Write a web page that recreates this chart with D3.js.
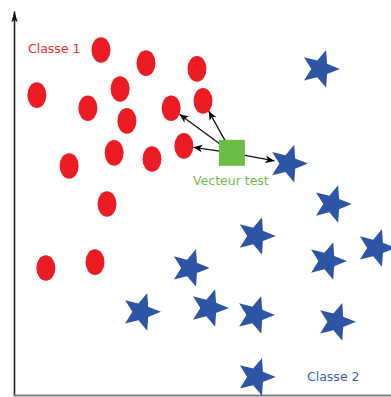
<!DOCTYPE html>
<html>
<head>
<meta charset="utf-8">
<script src="https://cdn.jsdelivr.net/npm/d3@7"></script>
<style>
  html, body { margin: 0; padding: 0; background: #fff; }
  svg { display: block; }
  text { font-family: "Comic Sans MS", "DejaVu Sans", sans-serif; }
</style>
</head>
<body>
<svg id="chart" width="391" height="397"></svg>
<script>
// ---- Data (arbitrary feature units, 0..10) ----
const classe1X = [2.32, 3.52, 4.88, 0.61, 2.83, 1.97, 4.19, 5.04, 3.01, 2.67, 3.68, 4.53, 1.47, 2.48, 0.85, 2.16];
const classe1Y = [8.96, 8.62, 8.47, 7.79, 7.95, 7.45, 7.45, 7.64, 7.12, 6.29, 6.13, 6.47, 5.95, 4.96, 3.30, 3.45];
const classe2X = [8.16, 7.31, 8.48, 6.45, 8.35, 9.65, 4.69, 3.39, 5.20, 6.43, 8.59, 6.45];
const classe2Y = [8.47, 6.01, 4.96, 4.13, 3.48, 3.82, 3.30, 2.16, 2.26, 2.08, 1.90, 0.47];
const testX = [5.81];
const testY = [6.29];
// nearest neighbours linked to the test vector: [class, index]
const neighbourClass = ["c1", "c1", "c1", "c2"];
const neighbourIndex = [7, 6, 11, 1];
const labels = ["Classe 1", "Vecteur test", "Classe 2"];

// ---- Setup ----
const svg = d3.select("#chart");
const x = d3.scaleLinear().domain([0, 10]).range([14, 389]);
const y = d3.scaleLinear().domain([0, 10]).range([395, 10]);

const RED = "#ed1c24", BLUE = "#2e55a5", GREEN = "#6cbd45";
const rx = 9.5, ry = 12.8, starR = 19.8, starInner = 0.44;

const defs = svg.append("defs");
defs.append("marker")
  .attr("id", "arr").attr("viewBox", "-10 -5 12 10")
  .attr("refX", 0).attr("refY", 0)
  .attr("markerWidth", 12).attr("markerHeight", 10)
  .attr("markerUnits", "userSpaceOnUse").attr("orient", "auto")
  .append("path").attr("d", "M0,0L-9,-3.8L-6.5,0L-9,3.8Z").attr("fill", "#000");
defs.append("marker")
  .attr("id", "axarr").attr("viewBox", "-12 -5 13 10")
  .attr("refX", 0).attr("refY", 0)
  .attr("markerWidth", 13).attr("markerHeight", 10)
  .attr("markerUnits", "userSpaceOnUse").attr("orient", "auto")
  .append("path").attr("d", "M0,0L-11,-3.2L-8,0L-11,3.2Z").attr("fill", "#000");

// ---- Axes (no ticks) ----
const yAxis = svg.append("g").attr("transform", `translate(${x(0)},0)`)
  .call(d3.axisLeft(y.copy().range([395, 11])).tickValues([]).tickSizeOuter(0));
yAxis.select(".domain").attr("stroke", "#222").attr("stroke-width", 1.6)
  .attr("marker-end", "url(#axarr)");

const xAxis = svg.append("g").attr("transform", `translate(0,${y(0)})`)
  .call(d3.axisBottom(x.copy().range([13, 400])).tickValues([]).tickSizeOuter(0));
xAxis.select(".domain").attr("stroke", "#7f7f7f").attr("stroke-width", 2.2);

// ---- Arrows from test vector to neighbours ----
const tx = x(testX[0]), ty = y(testY[0]);
const arrows = neighbourClass.map((c, k) => {
  const i = neighbourIndex[k];
  const px = c === "c1" ? x(classe1X[i]) : x(classe2X[i]);
  const py = c === "c1" ? y(classe1Y[i]) : y(classe2Y[i]);
  const dx = px - tx, dy = py - ty, L = Math.hypot(dx, dy);
  const ux = dx / L, uy = dy / L;
  const rEnd = c === "c1" ? (rx * ry) / Math.hypot(ry * ux, rx * uy) : 14;
  return { x1: tx, y1: ty, x2: px - ux * rEnd, y2: py - uy * rEnd };
});
svg.append("g").selectAll("line").data(arrows).join("line")
  .attr("x1", d => d.x1).attr("y1", d => d.y1)
  .attr("x2", d => d.x2).attr("y2", d => d.y2)
  .attr("stroke", "#111").attr("stroke-width", 1.3)
  .attr("marker-end", "url(#arr)");

// ---- Classe 1: red ellipses ----
svg.append("g").selectAll("ellipse").data(classe1X).join("ellipse")
  .attr("cx", d => x(d)).attr("cy", (d, i) => y(classe1Y[i]))
  .attr("rx", rx).attr("ry", ry).attr("fill", RED);

// ---- Classe 2: blue stars (five points, one pointing right) ----
const fatStar = {
  draw(ctx, size) {
    const R = Math.sqrt(size), r = R * starInner;
    for (let k = 0; k < 10; k++) {
      const a = k * Math.PI / 5;
      const rr = k % 2 ? r : R;
      const px = rr * Math.cos(a), py = rr * Math.sin(a);
      k ? ctx.lineTo(px, py) : ctx.moveTo(px, py);
    }
    ctx.closePath();
  }
};
const star = d3.symbol().type(fatStar).size(starR * starR);
svg.append("g").selectAll("path").data(classe2X).join("path")
  .attr("d", star)
  .attr("transform", (d, i) => `translate(${x(d)},${y(classe2Y[i])})`)
  .attr("fill", BLUE);

// ---- Test vector: green square ----
svg.append("rect")
  .attr("x", tx - 13).attr("y", ty - 13).attr("width", 26).attr("height", 26)
  .attr("fill", GREEN);

// ---- Labels ----
svg.append("text").attr("x", 28).attr("y", 53).attr("fill", "#f0282d")
  .attr("font-size", 12.5).text(labels[0]);
svg.append("text").attr("x", 193).attr("y", 185).attr("fill", "#6fbf4b")
  .attr("font-size", 12.5).text(labels[1]);
svg.append("text").attr("x", 307).attr("y", 381).attr("fill", "#3a5fb0")
  .attr("font-size", 12.5).text(labels[2]);
</script>
</body>
</html>
